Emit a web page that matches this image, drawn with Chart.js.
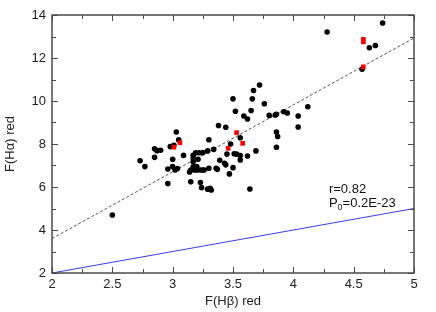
<!DOCTYPE html>
<html>
<head>
<meta charset="utf-8">
<script src="https://cdn.jsdelivr.net/npm/chart.js@4/dist/chart.umd.min.js"></script>
<style>
html,body{margin:0;padding:0;background:#fff;}
#wrap{width:436px;height:312px;}
</style>
</head>
<body>
<div id="wrap"><canvas id="c" width="436" height="312"></canvas></div>
<script>
// Black points: F(Hbeta) red vs F(Halpha) red
const blackX = [2.50,2.73,2.77,2.85,2.85,2.87,2.90,2.96,2.96,2.98,3.00,3.00,3.01,3.02,3.03,3.04,3.05,3.09,
  3.15,3.14,3.17,3.17,3.17,3.17,3.19,3.20,3.20,3.21,3.22,3.23,3.24,3.25,3.25,3.26,3.29,3.30,3.30,3.29,3.31,3.32,
  3.34,3.36,3.37,3.38,3.39,3.44,3.45,3.43,3.44,3.47,3.48,3.50,3.50,3.51,3.52,3.53,3.56,3.56,3.56,3.59,3.62,3.62,
  3.64,3.65,3.66,3.67,3.69,3.72,3.76,3.80,3.85,3.86,3.86,3.86,3.87,3.92,3.95,4.04,4.04,4.12,4.28,4.57,4.63,4.68,4.74,
  3.15,3.18,3.23,3.31];
const blackY = [4.70,7.22,6.95,7.78,7.38,7.69,7.71,6.84,6.16,7.88,7.29,6.95,7.94,6.79,8.56,6.86,8.19,7.47,
  6.24,6.70,7.48,7.33,7.17,6.94,7.59,6.95,6.79,7.29,7.59,6.21,5.97,7.60,6.79,6.79,7.68,8.20,6.87,5.90,5.94,5.86,
  7.75,6.87,6.82,8.86,7.24,8.78,7.53,7.10,7.03,6.61,8.00,10.10,6.90,7.55,9.52,7.53,7.26,7.46,8.29,9.30,9.16,7.44,
  5.91,9.56,10.10,10.49,7.68,10.74,9.87,9.33,9.35,9.38,8.56,7.85,8.35,9.50,9.44,8.79,9.30,9.73,13.21,11.48,12.48,12.58,13.63,
  6.79,6.79,6.79,5.89];
// Red points
const redX = [3.01,3.06,3.46,3.53,3.58,4.58,4.58,4.58];
const redY = [7.85,8.06,7.80,8.53,8.03,12.87,12.75,11.59];
// Linear fit (dashed) and one-to-one line (blue)
const fitX = [2, 5];
const fitY = [3.60, 12.93];
const oneX = [2, 5];
const oneY = [2, 5];
// Axis ticks
const xTicks = [2, 2.5, 3, 3.5, 4, 4.5, 5];
const yTicks = [2, 4, 6, 8, 10, 12, 14];
const xTitle = 'F(Hβ) red';
const yTitle = 'F(Hα) red';
const statR = 'r=0.82';
const statP = ['P', '0', '=0.2E-23'];

const zip = (a, b) => a.map((v, i) => ({x: v, y: b[i]}));
Chart.defaults.font.family = '"Liberation Sans", Arial, sans-serif';
Chart.defaults.color = '#222';

const framePlugin = {
  id: 'frame',
  afterDatasetsDraw(chart) {
    const {ctx, chartArea: a, scales} = chart;
    const xs = scales.x, ys = scales.y;
    ctx.save();
    ctx.strokeStyle = '#4a4a4a';
    ctx.lineWidth = 1;
    const tick = (len, px, isX) => {
      ctx.beginPath();
      if (isX) {
        ctx.moveTo(px, a.bottom); ctx.lineTo(px, a.bottom - len);
        ctx.moveTo(px, a.top); ctx.lineTo(px, a.top + len);
      } else {
        ctx.moveTo(a.left, px); ctx.lineTo(a.left + len, px);
        ctx.moveTo(a.right, px); ctx.lineTo(a.right - len, px);
      }
      ctx.stroke();
    };
    for (let i = 0; i < xTicks.length; i++) {
      tick(6, Math.round(xs.getPixelForValue(xTicks[i])) + 0.5, true);
      if (i < xTicks.length - 1) {
        const m = (xTicks[i] + xTicks[i + 1]) / 2;
        tick(4, Math.round(xs.getPixelForValue(m)) + 0.5, true);
      }
    }
    for (let i = 0; i < yTicks.length; i++) {
      tick(6, Math.round(ys.getPixelForValue(yTicks[i])) + 0.5, false);
      if (i < yTicks.length - 1) {
        const m = (yTicks[i] + yTicks[i + 1]) / 2;
        tick(4, Math.round(ys.getPixelForValue(m)) + 0.5, false);
      }
    }
    ctx.lineWidth = 1.5;
    ctx.strokeRect(a.left, a.top, a.right - a.left, a.bottom - a.top);
    ctx.fillStyle = '#111';
    ctx.font = '13px "Liberation Sans", Arial, sans-serif';
    ctx.textBaseline = 'alphabetic';
    const tx = xs.getPixelForValue(4.295);
    ctx.fillText(statR, tx, ys.getPixelForValue(5.72));
    const by = ys.getPixelForValue(5.07);
    ctx.fillText(statP[0], tx, by);
    let w = ctx.measureText(statP[0]).width;
    ctx.font = '9px "Liberation Sans", Arial, sans-serif';
    ctx.fillText(statP[1], tx + w, by + 3);
    w += ctx.measureText(statP[1]).width;
    ctx.font = '13px "Liberation Sans", Arial, sans-serif';
    ctx.fillText(statP[2], tx + w, by);
    ctx.restore();
  }
};

new Chart(document.getElementById('c'), {
  type: 'scatter',
  data: {
    datasets: [
      {label: 'red', data: zip(redX, redY), pointStyle: 'rect', pointRadius: 3.3,
       backgroundColor: '#ff0000', borderColor: '#ff0000', borderWidth: 0, order: 0},
      {label: 'black', data: zip(blackX, blackY), pointStyle: 'circle', pointRadius: 2.8,
       backgroundColor: '#000', borderColor: '#000', borderWidth: 0, order: 1},
      {label: 'fit', type: 'line', data: zip(fitX, fitY), borderColor: '#555', borderWidth: 1,
       borderDash: [3, 2], pointRadius: 0, fill: false, order: 2},
      {label: 'one', type: 'line', data: zip(oneX, oneY), borderColor: '#3b3bf0', borderWidth: 1,
       pointRadius: 0, fill: false, order: 3}
    ]
  },
  options: {
    responsive: false,
    devicePixelRatio: 1,
    animation: false,
    layout: {padding: {left: 0, top: 15, right: 22, bottom: 0}},
    plugins: {legend: {display: false}, tooltip: {enabled: false}},
    scales: {
      x: {
        type: 'linear', min: 2, max: 5,
        afterBuildTicks: s => { s.ticks = xTicks.map(v => ({value: v})); },
        afterFit: s => { s.height = 39; },
        grid: {display: false, drawTicks: false},
        border: {display: false},
        ticks: {padding: 4, font: {size: 13}, color: '#222', maxRotation: 0, callback: v => String(v)},
        title: {display: true, text: xTitle, font: {size: 13}, color: '#222', padding: {top: 0, bottom: 3}}
      },
      y: {
        type: 'linear', min: 2, max: 14,
        afterBuildTicks: s => { s.ticks = yTicks.map(v => ({value: v})); },
        afterFit: s => { s.width = 52; },
        grid: {display: false, drawTicks: false},
        border: {display: false},
        ticks: {padding: 6, font: {size: 13}, color: '#222', callback: v => String(v)},
        title: {display: true, text: yTitle, font: {size: 13}, color: '#222', padding: {top: 3, bottom: 0}}
      }
    }
  },
  plugins: [framePlugin]
});
</script>
</body>
</html>
